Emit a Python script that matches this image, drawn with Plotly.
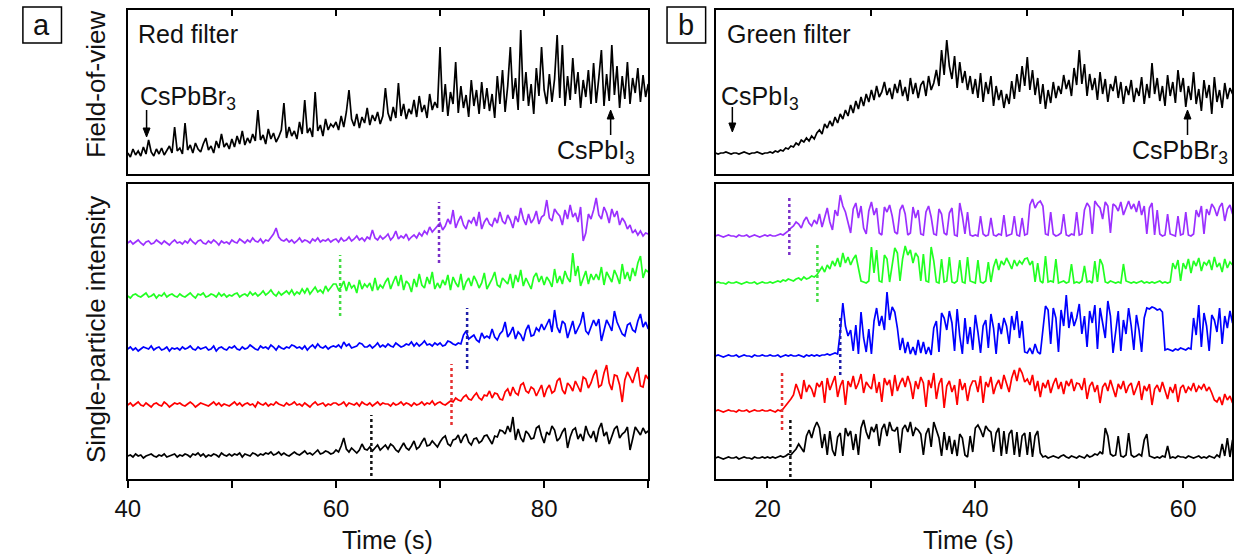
import numpy as np
import plotly.graph_objects as go

W, H = 1235, 554
FONT = "Liberation Sans, Arial, sans-serif"

# ---------------- data ----------------
t_a_start, t_b_start, dt = 40.0, 15.0, 0.25   # sampling: every 0.25 s

# field-of-view intensity, red filter (panel a), t = 40 ... 90 s
fov_red = [21, 17, 25, 19, 23, 18, 27, 20, 34, 22, 18, 25, 20, 26, 19, 24, 28, 21, 47, 23,
           26, 20, 51, 24, 29, 21, 31, 25, 22, 30, 36, 24, 28, 21, 33, 26, 40, 27, 31, 25,
           35, 27, 38, 30, 43, 29, 36, 31, 40, 33, 64, 34, 39, 30, 45, 35, 41, 32, 37, 44,
           71, 36, 47, 38, 43, 35, 52, 40, 74, 41, 46, 37, 82, 43, 49, 38, 55, 44, 50, 47,
           52, 44, 58, 47, 62, 84, 55, 48, 60, 46, 57, 51, 66, 49, 59, 53, 62, 50, 58, 86,
           61, 53, 67, 56, 91, 58, 70, 55, 65, 60, 74, 57, 78, 62, 69, 56, 80, 64, 72, 66,
           127, 62, 90, 58, 82, 70, 112, 61, 88, 66, 79, 57, 94, 68, 84, 60, 92, 65, 86, 63,
           80, 56, 98, 70, 104, 62, 88, 127, 75, 96, 64, 144, 73, 102, 68, 90, 60, 106, 78, 127,
           84, 70, 100, 72, 95, 139, 76, 129, 68, 98, 74, 116, 80, 102, 66, 94, 77, 104, 70, 111,
           71, 96, 124, 68, 100, 73, 129, 79, 108, 66, 98, 75, 112, 70, 96, 81, 106, 72, 99, 77,
           90]

# field-of-view intensity, green filter (panel b), t = 15 ... 64.75 s
fov_green = [21, 20, 21, 21, 22, 21, 20, 21, 21, 20, 21, 22, 21, 20, 21, 21, 22, 21, 20, 21,
             21, 22, 21, 23, 22, 24, 23, 26, 25, 28, 27, 31, 29, 34, 32, 36, 33, 38, 35, 41,
             44, 40, 50, 46, 53, 48, 57, 51, 60, 55, 64, 58, 69, 61, 73, 65, 77, 68, 80, 72,
             84, 74, 88, 77, 82, 92, 79, 86, 75, 90, 81, 94, 78, 87, 73, 96, 80, 91, 76, 89,
             93, 78, 98, 84, 91, 104, 88, 124, 99, 134, 108, 95, 118, 86, 112, 91, 103, 84, 98, 80,
             95, 76, 101, 72, 92, 80, 98, 68, 88, 74, 84, 66, 80, 70, 93, 75, 100, 82, 108, 88,
             117, 84, 104, 79, 96, 70, 90, 65, 84, 71, 92, 76, 88, 80, 99, 85, 94, 78, 106, 89,
             124, 90, 110, 78, 100, 84, 96, 74, 102, 80, 95, 72, 90, 83, 98, 76, 92, 70, 88, 79,
             94, 72, 86, 78, 97, 70, 90, 76, 111, 80, 96, 73, 88, 68, 99, 78, 92, 71, 104, 82,
             96, 67, 88, 74, 102, 70, 85, 63, 94, 76, 89, 60, 97, 72, 84, 66, 91, 75, 86, 80]

# single-particle intensities, panel a (t = 40 ... 90 s)
a_purple = [0, 2, -1, 1, 3, 0, -2, 1, 2, -1, 0, 3, 1, -1, 2, 0, -2, 1, 3, 0,
            1, -1, 2, 0, 4, 1, -1, 2, 3, 0, -1, 2, 0, 3, 1, -2, 2, 0, 1, -1,
            3, 1, 0, 4, 2, 0, 3, 1, 5, 2, 1, 4, 0, 3, 2, 5, 9, 15, 6, 3,
            2, 4, 1, 3, 0, 2, 5, 1, 3, 2, 0, 4, 2, 5, 1, 3, 2, 4, 1, 3,
            4, 1, 5, 2, 3, 6, 2, 4, 7, 3, 5, 2, 6, 4, 13, 5, 3, 7, 4, 6,
            9, 3, 6, 12, 4, 7, 5, 9, 3, 6, 8, 5, 10, 7, 12, 9, 16, 11, 14, 18,
            20, 13, 17, 24, 19, 33, 15, 22, 27, 18, 14, 23, 20, 26, 17, 31, 14, 21, 25, 19,
            17, 25, 20, 31, 22, 19, 28, 23, 15, 27, 21, 35, 24, 18, 29, 20, 24, 32, 19, 26,
            28, 43, 25, 22, 34, 30, 27, 18, 33, 24, 38, 26, 30, 21, 36, 2, 10, 29, 24, 33,
            45, 28, 24, 36, 30, 20, 34, 26, 32, 18, 25, 21, 14, 18, 10, 13, 8, 12, 7, 10,
            9]
a_green = [0, -2, 1, 2, 0, -1, 1, 3, -1, 0, 2, -2, 1, 0, 3, -1, 1, 2, 0, -1,
           2, 0, -1, 1, 3, 0, -2, 2, 1, 3, -1, 0, 2, 1, -1, 3, 0, 2, -1, 1,
           0, 2, 3, -1, 1, 2, 0, 4, 1, 3, 0, 2, 5, 1, 3, 6, 2, 0, 4, 1,
           3, 5, 2, 6, 1, 4, 2, 7, 3, 8, 2, 5, 9, 4, 6, 3, 10, 5, 8, 12,
           12, 6, 9, 15, 5, 14, 8, 11, 3, 16, 7, 12, 9, 13, 5, 18, 6, 11, 8, 14,
           18, 7, 14, 20, 10, 21, 6, 15, 12, 4, 17, 9, 22, 11, 8, 19, 12, 24, 7, 13,
           8, 16, 11, 21, 6, 19, 13, 9, 22, 6, 14, 18, 10, 20, 15, 8, 13, 23, 7, 12,
           17, 24, 11, 9, 18, 15, 12, 22, 8, 21, 14, 26, 10, 18, 13, 7, 19, 23, 14, 20,
           11, 19, 15, 9, 27, 13, 20, 12, 25, 18, 14, 43, 20, 30, 10, 18, 25, 12, 22, 16,
           22, 16, 29, 11, 24, 19, 14, 26, 20, 12, 32, 17, 24, 15, 28, 20, 33, 40, 18, 26,
           24]
a_blue = [0, 2, -1, 1, -2, 0, 2, 1, 0, 3, -1, 1, 2, -1, 0, 2, -2, 1, 0, 1,
          -1, 2, 0, 1, 3, 0, -1, 2, 0, 1, 2, -1, 0, 3, -2, 1, 2, 0, -1, 2,
          1, 3, 0, -1, 2, 0, 1, 4, 2, 0, -1, 3, 1, 2, 0, 4, 2, -1, 3, 1,
          0, 2, 1, 4, 3, 1, 2, 0, 3, -1, 2, 4, 1, 5, 2, 1, 3, 0, 2, 3,
          2, 4, 1, 7, 3, 5, 1, 2, 3, 6, 5, 2, 2, 4, 1, 3, 6, 2, 4, 2,
          5, 3, 2, 6, 4, 2, 3, 5, 4, 7, 3, 6, 3, 5, 8, 4, 5, 3, 6, 4,
          6, 3, 4, 8, 7, 5, 4, 6, 5, 14, 18, 10, 12, 14, 9, 7, 16, 11, 13, 11,
          20, 12, 9, 15, 18, 27, 12, 16, 22, 10, 17, 14, 8, 19, 24, 13, 14, 21, 18, 25,
          19, 24, 30, 17, 39, 22, 16, 28, 25, 11, 20, 28, 15, 20, 26, 37, 18, 15, 22, 29,
          23, 30, 8, 19, 29, 24, 18, 38, 27, 21, 15, 13, 24, 26, 19, 17, 28, 35, 22, 27,
          20]
a_red = [0, 2, -1, 1, 3, 0, -1, 2, 0, -2, 1, 2, 0, -1, 3, 1, -2, 0, 2, 1,
         2, 0, -1, 1, 3, 1, -2, 0, 2, 1, 0, -1, 1, 3, 0, 2, -1, 1, 0, -1,
         1, 3, 0, 2, -1, 1, 2, 0, 1, -2, 3, 1, 0, 2, -1, 1, 0, 3, 1, 0,
         -1, 2, 0, 1, 3, 0, 1, -1, 2, 0, -2, 1, 3, 0, 1, 2, -1, 1, 0, 2,
         2, 0, 1, 3, -1, 2, 1, 0, 2, -1, 3, 1, 0, 2, -1, 1, 3, 0, 2, 1,
         1, -1, 2, 0, 1, 3, 0, 2, 1, -1, 2, 0, 1, 3, 0, 2, 1, 4, 0, 2,
         3, 1, 0, 2, 4, 3, 7, 5, 4, 8, 10, 6, 5, 9, 12, 7, 5, 10, 9, 14,
         7, 12, 11, 6, 5, 13, 16, 9, 18, 12, 10, 20, 22, 14, 12, 18, 16, 9, 15, 20,
         8, 16, 20, 12, 14, 24, 27, 15, 11, 22, 19, 14, 24, 18, 13, 28, 26, 17, 22, 30,
         35, 18, 20, 32, 40, 22, 15, 30, 29, 20, 3, 25, 33, 28, 22, 31, 38, 19, 18, 30,
         26]
a_black = [0, 1, -1, 2, 0, 1, -2, 0, 1, 2, 0, -1, 1, 0, 2, -1, 0, 1, 2, -1,
           1, 0, 2, 1, -1, 2, 1, 3, 0, 2, -1, 1, 0, 2, 1, -1, 3, 1, 0, 2,
           0, 2, 1, 3, -1, 2, 1, 0, 3, 2, 0, 2, 1, 3, 2, 4, 1, 2, 4, 1,
           3, 1, 0, 2, 4, 2, 1, 3, 5, 2, 3, 1, 4, 6, 2, 3, 5, 4, 2, 3,
           6, 4, 10, 18, 7, 4, 8, 5, 3, 6, 12, 7, 6, 9, 5, 8, 11, 6, 9, 11,
           7, 12, 10, 6, 4, 9, 13, 8, 6, 10, 15, 7, 9, 14, 18, 10, 11, 15, 12, 9,
           14, 18, 20, 12, 10, 16, 17, 21, 13, 19, 22, 14, 11, 17, 18, 13, 15, 20, 21, 16,
           12, 20, 19, 26, 25, 22, 30, 24, 39, 16, 27, 18, 14, 25, 22, 17, 18, 28, 30, 20,
           13, 24, 21, 30, 26, 15, 18, 24, 28, 8, 19, 26, 28, 17, 22, 15, 30, 22, 18, 25,
           14, 27, 33, 20, 24, 12, 19, 27, 30, 18, 22, 24, 29, 6, 17, 29, 25, 21, 28, 23,
           25]

# single-particle intensities, panel b (t = 15 ... 64.75 s)
b_purple = [0, 1, 0, -1, 0, 1, 0, 0, -1, 1, 0, 0, 1, -1, 0, 1, 0, -1, 0, 1,
            0, 1, 0, 0, 1, 2, 1, 3, 5, 8, 10, 14, 12, 8, 15, 19, 13, 10, 16, 12,
            22, 9, 18, 28, 14, 6, 26, 20, 41, 30, 24, 12, 3, 27, 33, 18, 30, 8, 2, 25,
            34, 21, 28, 3, 1, 29, 24, 31, 20, 4, 2, 26, 31, 22, 1, 3, 29, 18, 26, 2,
            1, 24, 30, 19, 2, 1, 27, 22, 3, 1, 23, 28, 1, 0, 33, 20, 2, 24, 1, 0,
            1, 0, 20, 2, 0, 1, 18, 1, 0, 2, 1, 21, 0, 1, 2, 20, 1, 0, 18, 1,
            2, 31, 37, 28, 33, 35, 30, 2, 1, 24, 2, 0, 1, 3, 22, 1, 0, 2, 1, 24,
            1, 2, 26, 33, 29, 2, 35, 31, 28, 17, 34, 30, 3, 32, 30, 25, 34, 21, 29, 35,
            27, 32, 24, 35, 21, 30, 2, 28, 33, 1, 26, 2, 0, 1, 22, 2, 1, 0, 20, 1,
            2, 24, 1, 0, 2, 26, 19, 30, 2, 27, 21, 32, 28, 20, 29, 33, 15, 27, 31, 22]
b_green = [0, 1, 0, 0, -1, 1, 0, 0, 1, 0, -1, 0, 1, 0, 0, 1, -1, 0, 1, 0,
           0, 1, 0, 1, 2, 1, 3, 2, 4, 3, 2, 4, 5, 3, 6, 4, 5, 7, 6, 8,
           12, 16, 11, 18, 14, 22, 17, 25, 16, 30, 20, 26, 18, 24, 28, 15, 2, 1, 0, 2,
           36, 10, 33, 2, 1, 28, 24, 1, 20, 35, 30, 2, 24, 37, 28, 33, 20, 30, 26, 2,
           29, 2, 1, 36, 22, 1, 0, 24, 1, 2, 26, 1, 0, 2, 23, 1, 0, 26, 2, 1,
           0, 23, 1, 0, 2, 21, 1, 16, 24, 13, 22, 18, 25, 20, 14, 23, 17, 22, 19, 24,
           25, 18, 22, 1, 20, 2, 0, 27, 1, 2, 1, 24, 0, 1, 2, 0, 1, 19, 0, 1,
           0, 2, 17, 1, 2, 0, 22, 1, 24, 18, 1, 0, 2, 1, 0, 1, 0, 19, 2, 1,
           0, 1, 0, 1, 2, 0, 1, 0, 1, 0, 1, 2, 0, 1, 0, 1, 20, 14, 23, 2,
           20, 14, 24, 10, 22, 17, 25, 12, 21, 18, 23, 13, 26, 16, 20, 11, 24, 15, 21, 18]
b_blue = [0, 1, 0, -1, 0, 1, 0, 0, 1, -1, 0, 1, 0, 0, -1, 1, 0, 0, 1, 0,
          0, 1, 0, 0, 1, -1, 0, 1, 0, 1, 0, 0, 1, 0, -1, 1, 0, 1, 0, 1,
          0, 1, 1, 2, 1, 2, 3, 2, 24, 53, 30, 20, 26, 5, 31, 2, 44, 18, 4, 27,
          2, 35, 48, 30, 40, 26, 64, 36, 49, 44, 28, 6, 18, 3, 14, 2, 9, 1, 16, 3,
          14, 2, 9, 1, 28, 35, 4, 43, 38, 26, 45, 33, 5, 47, 20, 2, 38, 12, 29, 6,
          41, 24, 3, 30, 36, 8, 42, 28, 2, 33, 22, 38, 30, 12, 40, 26, 45, 18, 35, 4,
          3, 8, 2, 12, 4, 2, 30, 50, 46, 12, 48, 38, 4, 46, 30, 61, 28, 44, 30, 38,
          52, 22, 40, 9, 45, 33, 51, 7, 48, 33, 18, 55, 40, 3, 27, 45, 5, 36, 22, 48,
          30, 6, 41, 26, 4, 38, 48, 47, 49, 48, 46, 47, 44, 6, 7, 6, 5, 7, 6, 8,
          7, 6, 8, 7, 38, 21, 51, 9, 43, 30, 5, 41, 36, 24, 48, 12, 40, 28, 45, 33]
b_red = [0, 1, 0, -1, 0, 1, 0, 0, -1, 1, 0, 0, 1, -1, 0, 1, 0, 0, 1, 0,
         0, 1, 0, -1, 1, 0, 2, 5, 8, 12, 16, 27, 20, 12, 31, 19, 26, 22, 14, 28,
         24, 30, 8, 33, 21, 28, 35, 14, 25, 31, 6, 30, 24, 35, 22, 28, 37, 18, 29, 25,
         22, 37, 18, 29, 9, 33, 26, 31, 15, 36, 20, 28, 33, 24, 35, 27, 12, 30, 22, 34,
         28, 4, 31, 23, 38, 12, 27, 33, 3, 25, 30, 19, 26, 6, 32, 21, 28, 10, 24, 30,
         30, 19, 35, 8, 29, 24, 34, 17, 26, 31, 22, 36, 28, 19, 33, 41, 30, 43, 38, 29,
         32, 26, 36, 20, 30, 14, 28, 23, 31, 18, 27, 33, 22, 29, 17, 30, 25, 32, 20, 28,
         27, 21, 33, 12, 25, 29, 19, 26, 8, 24, 28, 20, 31, 23, 14, 27, 22, 30, 18, 25,
         28, 16, 23, 30, 11, 25, 20, 27, 6, 22, 26, 19, 29, 21, 12, 24, 18, 27, 9, 23,
         26, 18, 24, 21, 28, 19, 25, 22, 27, 20, 24, 18, 11, 9, 14, 6, 17, 11, 15, 8]
b_black = [0, 1, 0, -1, 0, 1, 0, 0, 1, -1, 0, 1, 0, 0, -1, 1, 0, 0, 1, 0,
           1, 0, 1, 0, 1, 2, 1, 2, 4, 3, 6, 9, 14, 10, 6, 22, 28, 20, 30, 36,
           30, 10, 24, 3, 27, 8, 2, 21, 25, 2, 30, 22, 27, 8, 24, 3, 30, 38, 26, 19,
           31, 26, 34, 12, 29, 34, 22, 36, 28, 27, 31, 5, 29, 33, 26, 36, 22, 30, 28, 24,
           3, 24, 30, 11, 36, 28, 20, 2, 26, 8, 22, 4, 18, 2, 24, 20, 3, 1, 22, 6,
           30, 33, 28, 21, 32, 28, 26, 6, 25, 30, 2, 27, 4, 24, 28, 3, 26, 1, 22, 25,
           3, 26, 1, 22, 27, 5, 1, 2, 0, 1, 2, 1, 0, 2, 3, 1, 0, 2, 1, 0,
           2, 1, 0, 3, 1, 2, 4, 3, 6, 4, 30, 22, 4, 2, 3, 22, 2, 1, 3, 25,
           3, 1, 2, 4, 2, 18, 24, 2, 1, 0, 1, 0, 2, 1, 12, 0, 1, 0, 2, 1,
           1, 0, 2, 1, 0, 1, 2, 0, 1, 0, 2, 1, 0, 3, 1, 14, 2, 20, 1, 18]

# onset times marked by dotted lines (s)
onset_a = {"purple": 69.9, "green": 60.4, "blue": 72.6, "red": 71.1, "black": 63.4}
onset_b = {"purple": 22.1, "green": 24.8, "blue": 27.0, "red": 21.4, "black": 22.2}

major_a, minor_a = [40, 60, 80], [50, 70, 90]
major_b, minor_b = [20, 40, 60], [30, 50]

# ---------------- styling / layout constants ----------------
colors = {"purple": "#9B30FF", "green": "#22FF22", "blue": "#0000FF",
          "red": "#FF0000", "black": "#000000"}
dot_colors = {"purple": "#7A2FC8", "green": "#44DD44", "blue": "#1E1EA8",
              "red": "#E53030", "black": "#111111"}
off_a = {"purple": 236, "green": 183, "blue": 130, "red": 74, "black": 23}
off_b = {"purple": 243, "green": 196, "blue": 123, "red": 68, "black": 21}

series_a = {"purple": a_purple, "green": a_green, "blue": a_blue, "red": a_red, "black": a_black}
series_b = {"purple": b_purple, "green": b_green, "blue": b_blue, "red": b_red, "black": b_black}


def px(x):
    return x / W


def py(y):
    return 1 - y / H


def times(start, vals):
    return start + dt * np.arange(len(vals))


fig = go.Figure()

fig.add_trace(go.Scatter(x=times(t_a_start, fov_red), y=fov_red, mode="lines",
                         line=dict(color="black", width=1.7), xaxis="x", yaxis="y", showlegend=False))
fig.add_trace(go.Scatter(x=times(t_b_start, fov_green), y=fov_green, mode="lines",
                         line=dict(color="black", width=1.7), xaxis="x3", yaxis="y3", showlegend=False))

for name, vals in series_a.items():
    fig.add_trace(go.Scatter(x=times(t_a_start, vals), y=off_a[name] + np.array(vals), mode="lines",
                             line=dict(color=colors[name], width=1.7),
                             xaxis="x2", yaxis="y2", showlegend=False))
for name, vals in series_b.items():
    fig.add_trace(go.Scatter(x=times(t_b_start, vals), y=off_b[name] + np.array(vals), mode="lines",
                             line=dict(color=colors[name], width=1.7),
                             xaxis="x4", yaxis="y4", showlegend=False))

for name, t0 in onset_a.items():
    fig.add_trace(go.Scatter(x=[t0, t0], y=[off_a[name] - 20, off_a[name] + 41], mode="lines",
                             line=dict(color=dot_colors[name], width=2.5, dash="dot"),
                             xaxis="x2", yaxis="y2", showlegend=False))
for name, t0 in onset_b.items():
    fig.add_trace(go.Scatter(x=[t0, t0], y=[off_b[name] - 19, off_b[name] + 40], mode="lines",
                             line=dict(color=dot_colors[name], width=2.5, dash="dot"),
                             xaxis="x4", yaxis="y4", showlegend=False))

frame = dict(showline=True, linewidth=2, linecolor="black", mirror=True,
             showgrid=False, zeroline=False)
tickfont = dict(family=FONT, size=24, color="#111")

dom_a = [px(116), px(642)]
dom_b = [px(710), px(1232)]
dom_top = [py(174), py(10)]
dom_bot = [py(479), py(184)]


def bottom_x(dom, rng, anchor, major, minor):
    return dict(domain=dom, range=rng, anchor=anchor, ticks="outside", ticklen=7, tickwidth=2,
                tickcolor="black", tickmode="array", tickvals=major,
                ticktext=[str(v) for v in major], tickfont=tickfont,
                minor=dict(tickmode="array", tickvals=minor, ticks="outside", ticklen=7,
                           tickwidth=2, tickcolor="black", showgrid=False),
                **frame)


fig.update_layout(
    width=W, height=H, margin=dict(l=0, r=0, t=0, b=0),
    paper_bgcolor="white", plot_bgcolor="white",
    xaxis=dict(domain=dom_a, range=[40, 90], anchor="y", side="top", ticks="inside",
               ticklen=6, tickwidth=2, tickcolor="black", tickvals=[50, 60, 70, 80],
               showticklabels=False, **frame),
    yaxis=dict(domain=dom_top, range=[0, 164], anchor="x", showticklabels=False, ticks="", **frame),
    xaxis2=bottom_x(dom_a, [40, 90], "y2", major_a, minor_a),
    yaxis2=dict(domain=dom_bot, range=[0, 295], anchor="x2", showticklabels=False, ticks="", **frame),
    xaxis3=dict(domain=dom_b, range=[15, 64.7], anchor="y3", side="top", ticks="inside",
                ticklen=6, tickwidth=2, tickcolor="black", tickvals=[30, 45, 60],
                showticklabels=False, **frame),
    yaxis3=dict(domain=dom_top, range=[0, 164], anchor="x3", showticklabels=False, ticks="", **frame),
    xaxis4=bottom_x(dom_b, [15, 64.7], "y4", major_b, minor_b),
    yaxis4=dict(domain=dom_bot, range=[0, 295], anchor="x4", showticklabels=False, ticks="", **frame),
)

txt = dict(family=FONT, size=25, color="#111")
txt_big = dict(family=FONT, size=26, color="#111")


def label(text, x, y, xanchor="left", angle=0, font=txt):
    return dict(text=text, x=px(x), y=py(y), xref="paper", yref="paper", showarrow=False,
                font=font, xanchor=xanchor, yanchor="middle", textangle=angle)


ann = [
    label("Time (s)", 378, 540, "center"),
    label("Time (s)", 966, 540, "center"),
    label("Field-of-view", 84, 84, "center", -90, txt_big),
    label("Single-particle intensity", 84, 330, "center", -90, txt_big),
    label("Red filter", 124, 34),
    label("Green filter", 720, 34),
    label("a", 29, 25, "center", font=dict(family=FONT, size=29, color="#111")),
    label("b", 680, 25, "center", font=dict(family=FONT, size=29, color="#111")),
    label("CsPbBr<sub>3</sub>", 126, 98),
    label("CsPbI<sub>3</sub>", 548, 152),
    label("CsPbI<sub>3</sub>", 714, 98),
    label("CsPbBr<sub>3</sub>", 1129, 152),
]
fig.update_layout(annotations=ann)


def arrow(x, y_tail, y_head):
    """vertical arrow drawn as a stem plus a filled head (page pixels)"""
    sgn = 1 if y_head > y_tail else -1
    base = y_head - sgn * 9
    return [
        dict(type="line", xref="paper", yref="paper", x0=px(x), x1=px(x),
             y0=py(y_tail), y1=py(base), line=dict(color="black", width=1.5)),
        dict(type="path", xref="paper", yref="paper",
             path=f"M {px(x)},{py(y_head)} L {px(x - 3.5)},{py(base)} L {px(x + 3.5)},{py(base)} Z",
             fillcolor="black", line=dict(color="black", width=1)),
    ]


shapes = [
    dict(type="rect", xref="paper", yref="paper", x0=px(10), x1=px(49), y0=py(43), y1=py(7),
         line=dict(color="black", width=1.5)),
    dict(type="rect", xref="paper", yref="paper", x0=px(661), x1=px(700), y0=py(43), y1=py(7),
         line=dict(color="black", width=1.5)),
]
shapes += arrow(135, 110, 137)
shapes += arrow(604, 135, 110)
shapes += arrow(727, 107, 132)
shapes += arrow(1187, 135, 110)
fig.update_layout(shapes=shapes)

# the page itself should add no margin or scrollbars around the 1235x554 figure
page_js = "document.body.style.margin='0';document.body.style.overflow='hidden';"
fig.write_html("out.html", post_script=page_js, config={"displayModeBar": False})
